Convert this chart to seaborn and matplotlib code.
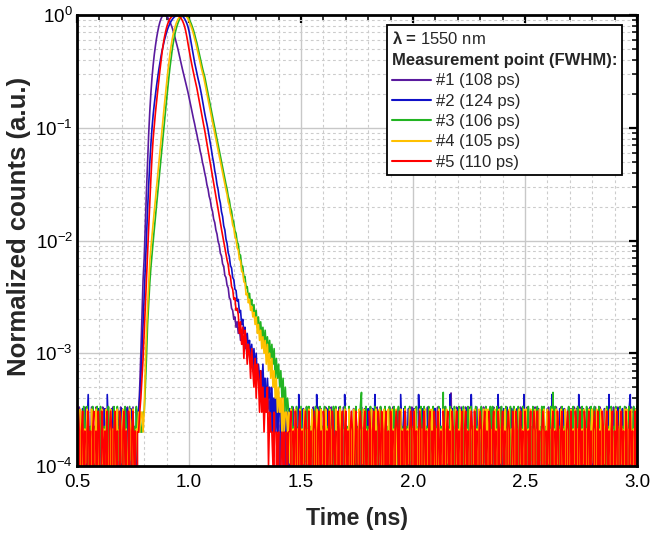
import numpy as np
import pandas as pd
import matplotlib
matplotlib.use("Agg")
import matplotlib.pyplot as plt
import seaborn as sns
from matplotlib.lines import Line2D
from matplotlib.ticker import LogLocator, MultipleLocator, NullFormatter, FormatStrFormatter

# ---------------- data ----------------
t_start = 0.5      # ns, first time bin
t_step = 0.005     # ns per histogram bin

series_names = ["#1 (108 ps)", "#2 (124 ps)", "#3 (106 ps)", "#4 (105 ps)", "#5 (110 ps)"]
colors = ["#5A1A9E", "#1010C8", "#22B422", "#FFC000", "#FF0000"]
peak_counts = [9000, 9300, 8900, 9400, 9800]   # raw counts at pulse maximum

# background counts (raw counts per bin) before the pulse, 0.500 - 0.765 ns
pre_1 = "2130121031 0213120312 1203102130 2131021203 1202130121 3102"
pre_2 = "1321032102 4120312103 2102130421 0312103210 3121032130 2103"
pre_3 = "0212103123 1021302130 2312021031 2103203121 0213201312 0213"
pre_4 = "1203120213 2103121302 1031203210 3120213021 2301210321 3012"
pre_5 = "2320231202 3120230213 2032120302 3202312032 0231203202 3120"

# pulse, normalized counts x 1e4, 0.770 - 1.445 ns
pulse_1 = [2, 3, 5, 10, 22, 45, 70, 140, 270, 500,
           880, 1400, 2050, 2800, 3600, 4450, 5300, 6200, 7050, 7900,
           8650, 9250, 9700, 9950, 10000, 9920, 9750, 9500, 9150, 8700,
           8200, 7700, 7150, 6600, 6050, 5550, 5050, 4550, 4100, 3700,
           3350, 3050, 2800, 2550, 2300, 2080, 1870, 1680, 1500, 1340,
           1200, 1085, 965, 875, 775, 705, 620, 565, 495, 450,
           398, 360, 312, 286, 247, 228, 196, 181, 155, 144,
           124, 114, 98, 91, 77, 73, 62, 59, 49, 47,
           40, 38, 31, 30, 25, 24, 20, 21, 17, 19,
           15, 17, 13, 15, 12, 14, 11, 12, 9, 11,
           10, 8, 10, 7, 9, 6, 8, 6, 7, 5,
           6, 4, 5, 6, 4, 5, 3, 4, 3, 4,
           2, 3, 4, 2, 3, 2, 3, 1, 2, 0,
           2, 3, 1, 2, 3, 1]
pulse_2 = [2, 3, 4, 6, 10, 18, 32, 58, 105, 185,
           310, 490, 720, 1000, 1300, 1620, 1970, 2350, 2780, 3250,
           3750, 4300, 4850, 5400, 5950, 6500, 7050, 7550, 8000, 8420,
           8800, 9120, 9400, 9620, 9790, 9900, 9970, 10000, 9990, 9930,
           9800, 9580, 9280, 8900, 8450, 7900, 7200, 6400, 5600, 4900,
           4300, 3800, 3400, 3050, 2750, 2500, 2250, 2000, 1750, 1550,
           1350, 1200, 1080, 960, 840, 730, 640, 550, 488, 416,
           370, 314, 282, 238, 215, 180, 163, 135, 124, 103,
           94, 78, 72, 60, 57, 47, 45, 37, 36, 29,
           30, 23, 24, 18, 20, 15, 17, 12, 15, 11,
           13, 9, 12, 8, 11, 7, 10, 6, 8, 6,
           7, 5, 8, 4, 6, 3, 6, 4, 5, 3,
           5, 2, 4, 3, 4, 2, 3, 4, 2, 3,
           3, 4, 2, 3, 1, 3]
pulse_3 = [2, 2, 3, 2, 2, 3, 3, 5, 9, 18,
           28, 42, 58, 76, 98, 126, 160, 204, 260, 331,
           422, 537, 684, 871, 1109, 1413, 1778, 2239, 2786, 3428,
           4121, 4898, 5689, 6457, 7161, 7816, 8395, 8913, 9333, 9638,
           9840, 9954, 10000, 9977, 9863, 9638, 9290, 8810, 8350, 7850,
           7330, 6761, 6166, 5689, 5129, 4624, 4169, 3758, 3388, 3090,
           2851, 2541, 2265, 2018, 1799, 1585, 1413, 1259, 1122, 1000,
           891, 794, 708, 631, 562, 501, 447, 398, 355, 316,
           286, 247, 228, 196, 182, 154, 145, 122, 116, 97,
           93, 76, 74, 60, 59, 47, 48, 38, 39, 31,
           34, 27, 30, 23, 27, 20, 24, 17, 21, 15,
           19, 14, 17, 12, 16, 11, 14, 10, 13, 9,
           12, 8, 11, 6, 9, 6, 8, 5, 7, 4,
           6, 3, 5, 3, 4, 3]
pulse_4 = [2, 3, 2, 3, 3, 2, 3, 8, 16, 26,
           42, 65, 87, 112, 143, 182, 232, 295, 376, 479,
           610, 776, 989, 1259, 1585, 1995, 2512, 3090, 3758, 4519,
           5309, 6095, 6839, 7499, 8128, 8670, 9120, 9462, 9727, 9886,
           9977, 10000, 9977, 9863, 9638, 9290, 8810, 8350, 7850, 7330,
           6761, 6166, 5689, 5129, 4624, 4169, 3758, 3388, 3090, 2851,
           2541, 2265, 2018, 1799, 1585, 1413, 1259, 1122, 1000, 891,
           794, 708, 631, 562, 501, 447, 398, 355, 316, 282,
           255, 220, 204, 174, 161, 137, 129, 108, 103, 86,
           82, 68, 66, 53, 52, 43, 42, 33, 34, 28,
           30, 24, 26, 21, 23, 18, 21, 15, 18, 13,
           16, 11, 14, 10, 13, 8, 12, 7, 10, 6,
           9, 5, 7, 4, 6, 3, 5, 3, 4, 2,
           4, 2, 3, 3, 2, 3]
pulse_5 = [2, 2, 3, 4, 6, 9, 15, 26, 45, 75,
           130, 220, 360, 560, 800, 1050, 1350, 1700, 2100, 2600,
           3200, 3900, 4700, 5500, 6300, 7050, 7750, 8350, 8850, 9250,
           9550, 9770, 9910, 9980, 10000, 9980, 9920, 9800, 9600, 9320,
           8950, 8500, 7950, 7250, 6450, 5650, 4950, 4350, 3850, 3430,
           3070, 2760, 2500, 2250, 2000, 1760, 1550, 1360, 1200, 1070,
           950, 830, 725, 635, 555, 485, 425, 370, 322, 282,
           246, 215, 188, 164, 143, 126, 111, 98, 87, 76,
           67, 61, 50, 48, 39, 37, 30, 31, 24, 25,
           22, 15, 19, 12, 17, 9, 16, 13, 8, 12,
           10, 6, 11, 7, 5, 9, 4, 8, 6, 3,
           7, 3, 5, 2, 4, 3, 5, 1, 3, 2,
           2, 1, 3, 0, 2, 1, 2, 0, 1, 2,
           1, 2, 0, 2, 1, 2]

# background counts (raw counts per bin) after the pulse, from 1.450 ns
post_1 = ("1203102130 2102130212 0312013102 2130120312 0210312031 "
          "2103021203 1201302130 2130120231 0312010213 2031202103 "
          "1203120213 0213012310 2103102132 0130212031 1203410213 "
          "0213120312 3012021310 2103120211 0132102130 1201320121 "
          "3021103120 2130120213 0121031202 1302120131 2031210213 "
          "0120312101 3210201231 0213120312 1020131203 2103120121 "
          "3012031021 1203241031")
post_2 = ("3120213041 2031021302 1320412031 0213203121 3021031204 "
          "1203120312 0213021302 3120314021 0312032103 1203021304 "
          "2130213021 0312041203 1203120213 3021302130 1204130213 "
          "0213120312 3041203102 1302130213 2031204102 1320312031 "
          "0213021304 1203120213 2031023120 3120413021 0312031203 "
          "1320213041 2031203120 2130213021 0312041320 1203120312 "
          "0213402130 2130312031")
post_3 = ("2130213021 3102130312 0213021302 1302130213 0312031203 "
          "1203120213 0213402130 2130213021 0312031203 1203120312 "
          "2103120312 0213021302 3120312031 0213021403 1203120312 "
          "0312031203 2130213021 0312031203 1302130213 0213021302 "
          "3120312031 0213021302 1302130312 0213041302 1203120213 "
          "2103120312 0312031203 2130213021 0213021302 1302130213 "
          "0213021302 3120312031")
post_4 = ("1302130213 0213021302 3120312031 2031203120 0312031203 "
          "1203120312 2130213021 0213021302 3120312031 1302130213 "
          "0213021302 2031203120 1302130312 0213021302 3120312031 "
          "2031203120 1302130213 0213031302 1203120312 2130213021 "
          "0312031203 1302130213 0213021302 3120312031 2031203120 "
          "1302130213 0213021302 3120312031 2130213021 0312031203 "
          "1302130213 0213021302")
post_5 = ("2302132023 1202320312 0232023120 3202132032 1203202302 "
          "3120232013 2023202312 0320231203 2132023020 3120232130 "
          "2023120232 0312023202 3120230213 2032120320 2312032023 "
          "1202302312 0232031202 3202312032 0231203202 3120232013 "
          "2032023120 3202130232 0312023202 1320230213 2023120232 "
          "0312032023 1203202312 0232031203 2023120230 2132023120 "
          "3202312032 0231202320")

pres = [pre_1, pre_2, pre_3, pre_4, pre_5]
pulses = [pulse_1, pulse_2, pulse_3, pulse_4, pulse_5]
posts = [post_1, post_2, post_3, post_4, post_5]


def digits(s):
    return np.array([int(c) for c in s.replace(" ", "")], dtype=float)


frames = []
for name, pre, pulse, post, pk in zip(series_names, pres, pulses, posts, peak_counts):
    v = np.concatenate([digits(pre) / pk, np.array(pulse, float) / 1e4, digits(post) / pk])
    t = t_start + t_step * np.arange(len(v))
    frames.append(pd.DataFrame({"Time": t, "Counts": v, "Series": name}))
df = pd.concat(frames, ignore_index=True)

# ---------------- style ----------------
sns.set_theme(style="white")
plt.rcParams["font.family"] = ["Liberation Sans", "DejaVu Sans"]
plt.rcParams["mathtext.fontset"] = "custom"
plt.rcParams["mathtext.rm"] = "Liberation Sans"
plt.rcParams["mathtext.it"] = "Liberation Sans:italic"
plt.rcParams["mathtext.bf"] = "Liberation Sans:bold"
plt.rcParams["mathtext.sf"] = "Liberation Sans"

fig = plt.figure(figsize=(6.5, 5.35), dpi=100)
ax = fig.add_axes([77 / 650, 1 - 466 / 535, 560 / 650, 451 / 535])

sns.lineplot(data=df, x="Time", y="Counts", hue="Series", hue_order=series_names,
             palette=colors, estimator=None, errorbar=None, sort=False,
             linewidth=1.2, legend=False, ax=ax)

ax.set_yscale("log")
ax.set_xlim(0.5, 3.0)
ax.set_ylim(1e-4, 1)

ax.xaxis.set_major_locator(MultipleLocator(0.5))
ax.xaxis.set_minor_locator(MultipleLocator(0.1))
ax.xaxis.set_major_formatter(FormatStrFormatter("%.1f"))
ax.yaxis.set_major_locator(LogLocator(base=10, numticks=10))
ax.yaxis.set_minor_locator(LogLocator(base=10, subs=np.arange(2, 10), numticks=20))
ax.yaxis.set_minor_formatter(NullFormatter())

ax.set_axisbelow(True)
ax.grid(which="major", color="#c8c8c8", linewidth=1.0, linestyle="-")
ax.grid(which="minor", color="#cccccc", linewidth=0.8, linestyle=(0, (2.5, 2.5)))

ax.tick_params(which="both", direction="in", top=True, right=True, colors="black")
ax.tick_params(which="major", length=6, width=1.6, labelsize=13.5)
ax.tick_params(which="minor", length=3.5, width=1.1)
ax.tick_params(axis="x", which="major", pad=6)
ax.tick_params(axis="y", which="major", pad=3)
for sp in ax.spines.values():
    sp.set_linewidth(2.0)
    sp.set_color("black")

ax.set_xlabel("Time (ns)", fontsize=16.7, fontweight="bold", labelpad=11)
ax.set_ylabel("Normalized counts (a.u.)", fontsize=18.5, fontweight="bold")
ax.yaxis.set_label_coords(-0.082, 0.532)

handles = [Line2D([], [], color=c, linewidth=1.5) for c in colors]
title = "λ = $\\mathrm{1550\\ nm}$\nMeasurement point (FWHM):"
leg = ax.legend(handles, series_names, title=title, loc="upper right",
                bbox_to_anchor=((622 - 77) / 560, (466 - 25) / 451),
                borderaxespad=0, frameon=True, fancybox=False, edgecolor="black",
                framealpha=1, fontsize=12, handlelength=2.35,
                title_fontproperties={"weight": "bold", "size": 12},
                handletextpad=0.3, labelspacing=0.32, alignment="left", borderpad=0.3)
leg.get_title().set_linespacing(1.5)
leg.get_frame().set_linewidth(1.3)

fig.savefig("out.png", dpi=100)
